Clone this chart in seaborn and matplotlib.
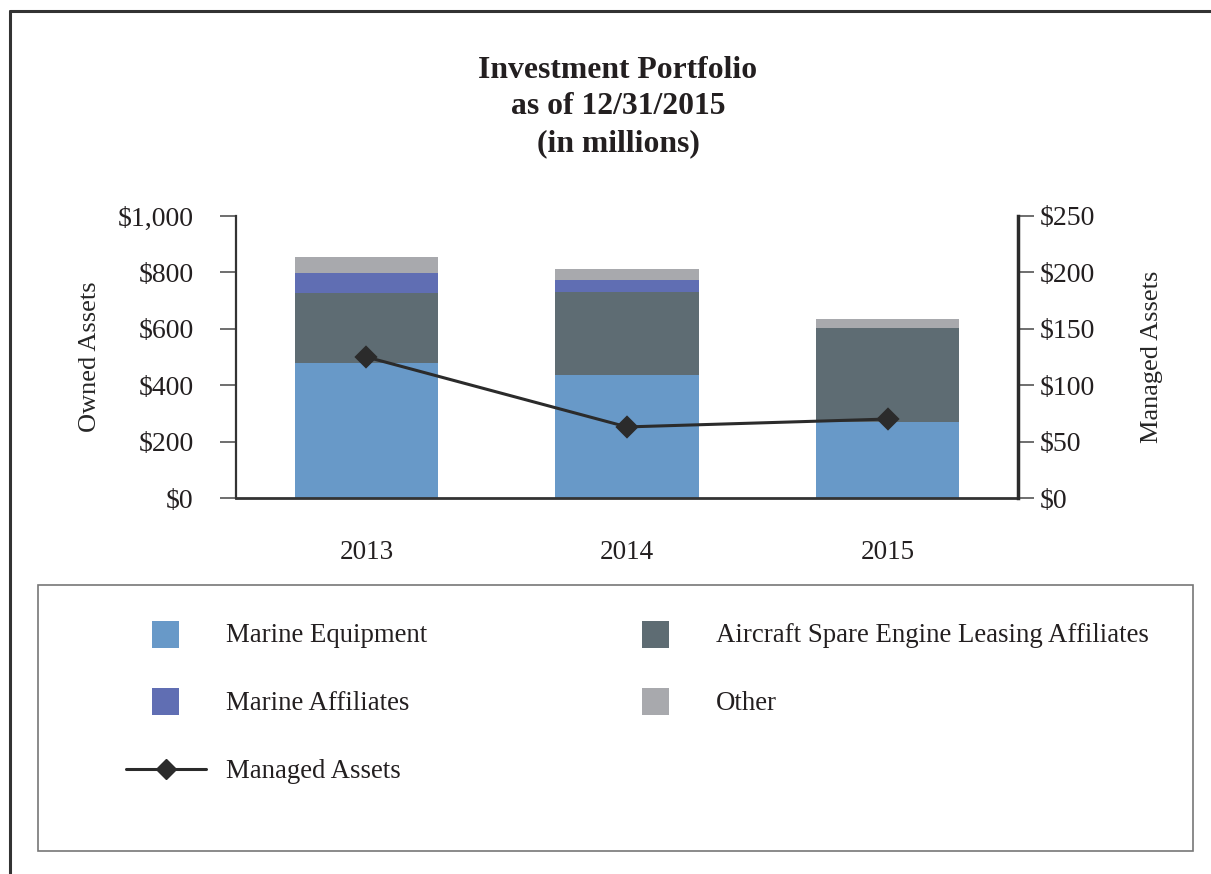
import matplotlib
matplotlib.use("Agg")
import matplotlib.pyplot as plt
import seaborn as sns
import numpy as np
from matplotlib.patches import Rectangle
from matplotlib.lines import Line2D

years = ["2013", "2014", "2015"]
marine_equipment = [479, 436, 271]
aircraft_affiliates = [248, 294, 332]
marine_affiliates = [71, 43, 0]
other = [57, 39, 32]
managed_assets = [125, 63, 70]

labels = ["Marine Equipment", "Aircraft Spare Engine Leasing Affiliates",
          "Marine Affiliates", "Other"]
colors = ["#6899c8", "#5e6c73", "#606eb3", "#a8a9ad"]
line_color = "#2b2b2b"

sns.set_style("white")
plt.rcParams["font.family"] = ["Liberation Serif", "DejaVu Serif"]
plt.rcParams["text.color"] = "#231f20"

fig = plt.figure(figsize=(12.11, 8.74), dpi=100)
ax = fig.add_axes([0.1949, 0.4302, 0.6457, 0.3227])

# stacked bars drawn as overlapping cumulative totals
stack = [marine_equipment, aircraft_affiliates, marine_affiliates, other]
cum = np.cumsum(np.array(stack), axis=0)
for i in range(len(stack) - 1, -1, -1):
    sns.barplot(x=years, y=cum[i], color=colors[i], saturation=1, width=0.55,
                ax=ax, linewidth=0)

ax.set_ylim(0, 1000)
ax.set_xlim(-0.5, 2.5)
ax.set_yticks(range(0, 1001, 200))
ax.set_yticklabels(["$0", "$200", "$400", "$600", "$800", "$1,000"])
ax.set_ylabel("Owned Assets", fontsize=19)
ax.yaxis.set_label_coords(-0.173, 0.5)
ax.set_xlabel("")

ax2 = ax.twinx()
sns.pointplot(x=years, y=managed_assets, color=line_color, markers="D",
              markersize=10, linewidth=2.2, errorbar=None, ax=ax2)
ax2.set_ylim(0, 250)
ax2.set_xlim(-0.5, 2.5)
ax2.set_yticks(range(0, 251, 50))
ax2.set_yticklabels(["$0", "$50", "$100", "$150", "$200", "$250"])
ax2.set_ylabel("Managed Assets", fontsize=19)
ax2.yaxis.set_label_coords(1.157, 0.5)

for a in (ax, ax2):
    a.spines["top"].set_visible(False)
    a.tick_params(axis="both", labelsize=20, length=11.5, width=1.2,
                  color="#555555", labelcolor="#231f20")
ax.spines["right"].set_visible(False)
ax.spines["left"].set_linewidth(1.6)
ax.spines["left"].set_color("#333333")
ax.spines["bottom"].set_linewidth(2)
ax.spines["bottom"].set_color("#333333")
ax2.spines["left"].set_visible(False)
ax2.spines["bottom"].set_visible(False)
ax2.spines["right"].set_linewidth(2.5)
ax2.spines["right"].set_color("#2b2b2b")
ax.tick_params(axis="x", pad=19, labelsize=19.5)
ax.tick_params(axis="y", pad=19)
ax2.tick_params(axis="y", pad=4)

fig.text(618 / 1211, 1 - 107 / 874,
         "Investment Portfolio\nas of 12/31/2015\n(in millions)",
         ha="center", va="center", fontsize=22.8, fontweight="bold",
         linespacing=1.33)

# outer frame
fig.add_artist(Line2D([10 / 1211, 1.0], [1 - 11 / 874] * 2, color="#333333",
                      lw=2.2, transform=fig.transFigure))
fig.add_artist(Line2D([10 / 1211] * 2, [0, 1 - 11 / 874], color="#333333",
                      lw=2.2, transform=fig.transFigure))

# legend box
W, H = 1211, 874
fig.add_artist(Rectangle((38 / W, 1 - 851 / H), (1193 - 38) / W, (851 - 585) / H,
                         fill=False, edgecolor="#777777", lw=1.2,
                         transform=fig.transFigure))
legend_pos = [(165, 634), (655, 634), (165, 701), (655, 701)]
for (cx, cy), lab, col in zip(legend_pos, labels, colors):
    fig.add_artist(Rectangle(((cx - 13.5) / W, 1 - (cy + 13.5) / H), 27 / W, 27 / H,
                             facecolor=col, edgecolor="none",
                             transform=fig.transFigure))
    fig.text((cx + 61) / W, 1 - (cy + 2) / H, lab, fontsize=19.3,
             va="center", ha="left")
fig.add_artist(Line2D([126 / W, 206 / W], [1 - 769 / H] * 2, color=line_color,
                      lw=2.2, transform=fig.transFigure))
fig.add_artist(Line2D([166 / W], [1 - 769 / H], color=line_color, marker="D",
                      markersize=10, linestyle="none", transform=fig.transFigure))
fig.text(226 / W, 1 - 771 / H, "Managed Assets", fontsize=19.3,
         va="center", ha="left")

fig.savefig("out.png", dpi=100)
